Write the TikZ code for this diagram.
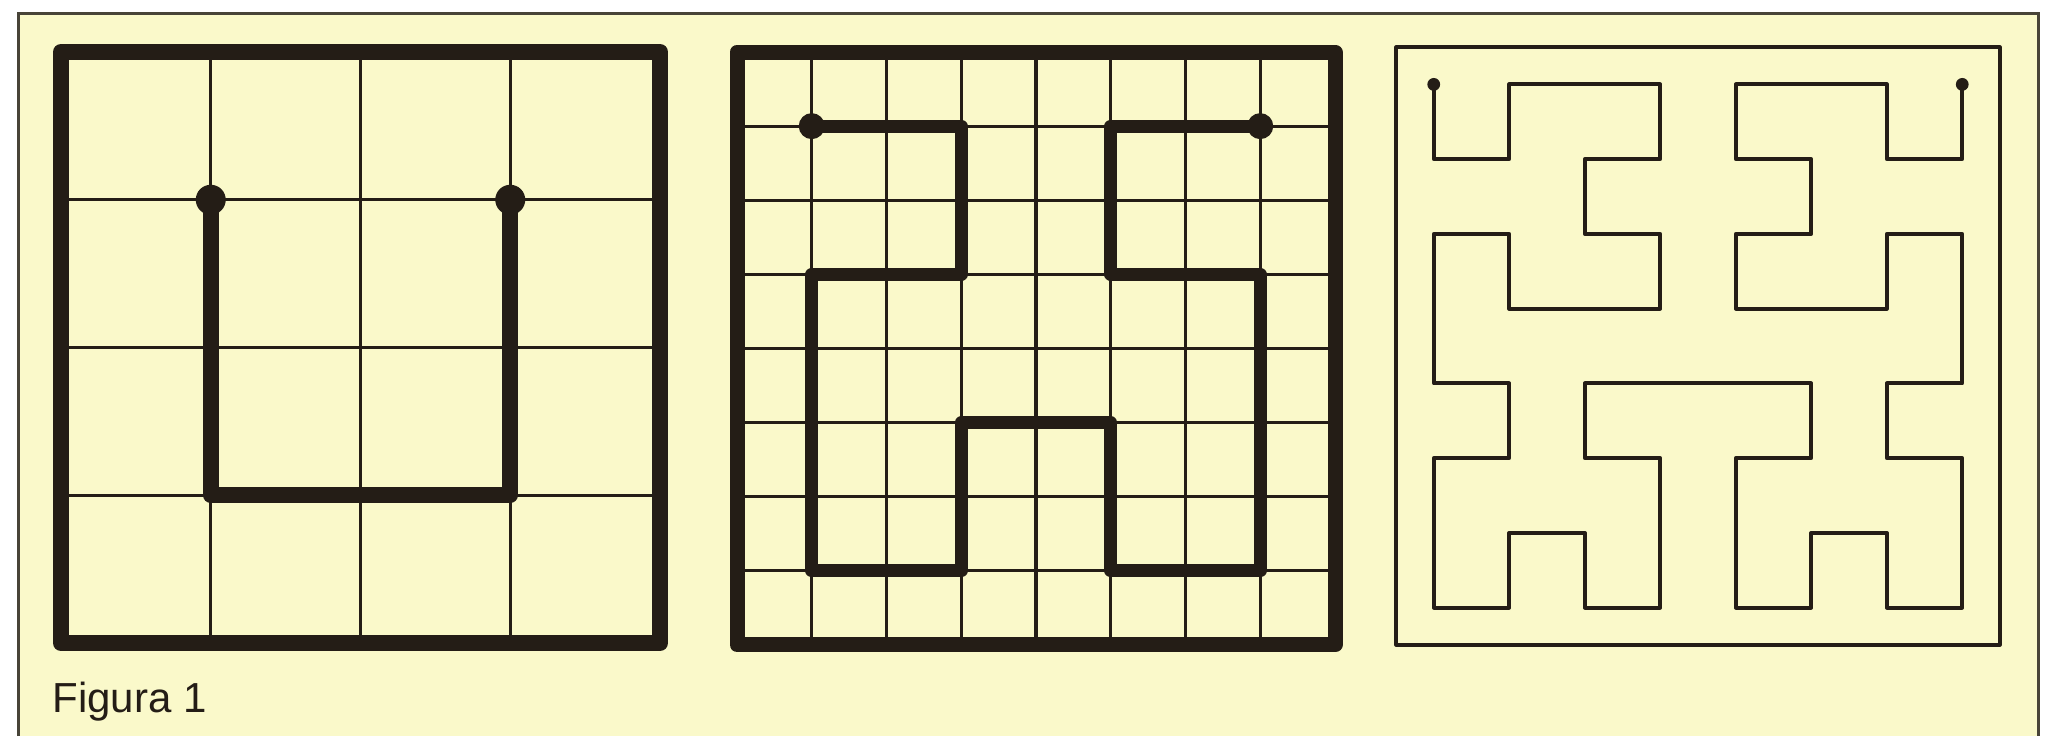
\documentclass[tikz,border=0pt]{standalone}
\usepackage{fontspec}
\setmainfont{Liberation Sans}
\definecolor{paper}{RGB}{250,249,202}
\definecolor{ink}{RGB}{36,29,22}
\definecolor{frameink}{RGB}{72,68,56}
\tikzset{
  gridline/.style={draw=ink, line width=1.6pt},
  heavyframe/.style={draw=ink, line width=8pt, line join=round},
  heavypath/.style={draw=ink, line width=8pt, line join=round, line cap=round},
  midframe/.style={draw=ink, line width=7.5pt, line join=round},
  midpath/.style={draw=ink, line width=6.5pt, line join=round, line cap=round},
  thinframe/.style={draw=ink, line width=1.6pt, line join=round},
  thinpath/.style={draw=ink, line width=1.9pt, line join=round},
}
\begin{document}
\begin{tikzpicture}[x=0.5pt,y=-0.5pt]
\useasboundingbox (0,0) rectangle (2051,736);
\fill[white] (0,0) rectangle (2051,736);
\fill[paper] (18,13) rectangle (2038,736);
\draw[frameink, line width=1.5pt] (18,736) -- (18,13) -- (2038,13) -- (2038,736);

% Panel 1: order-1 curve on a 4x4 grid
\begin{scope}[shift={(61,52)}, x=74.875pt, y=-73.875pt]
  \foreach \i in {1,2,3} {
    \draw[gridline] (\i,0) -- (\i,4);
    \draw[gridline] (0,\i) -- (4,\i);
  }
  \draw[heavyframe] (0,0) rectangle (4,4);
  \draw[heavypath] (1,1) -- (1,3) -- (3,3) -- (3,1);
  \fill[ink] (1,1) circle[radius=7.5pt];
  \fill[ink] (3,1) circle[radius=7.5pt];
\end{scope}

% Panel 2: order-2 curve on an 8x8 grid
\begin{scope}[shift={(737,52)}, x=37.375pt, y=-37.06pt]
  \foreach \i in {1,...,7} {
    \draw[gridline] (\i,0) -- (\i,8);
    \draw[gridline] (0,\i) -- (8,\i);
  }
  \draw[midframe] (0,0) rectangle (8,8);
  \draw[midpath] (1,1) -- (3,1) -- (3,3) -- (1,3) -- (1,7) -- (3,7) -- (3,5)
     -- (5,5) -- (5,7) -- (7,7) -- (7,3) -- (5,3) -- (5,1) -- (7,1);
  \fill[ink] (1,1) circle[radius=6.5pt];
  \fill[ink] (7,1) circle[radius=6.5pt];
\end{scope}

% Panel 3: order-3 curve
\begin{scope}[shift={(1396,47)}, x=37.75pt, y=-37.375pt]
  \draw[thinframe] (0,0) rectangle (8,8);
  \begin{scope}[shift={(0.5,0.5)}]
    \draw[thinpath] (0,0) -- (0,1) -- (1,1) -- (1,0) -- (3,0) -- (3,1) -- (2,1)
      -- (2,2) -- (3,2) -- (3,3) -- (1,3) -- (1,2) -- (0,2) -- (0,4) -- (1,4)
      -- (1,5) -- (0,5) -- (0,7) -- (1,7) -- (1,6) -- (2,6) -- (2,7) -- (3,7)
      -- (3,5) -- (2,5) -- (2,4) -- (5,4) -- (5,5) -- (4,5) -- (4,7) -- (5,7)
      -- (5,6) -- (6,6) -- (6,7) -- (7,7) -- (7,5) -- (6,5) -- (6,4) -- (7,4)
      -- (7,2) -- (6,2) -- (6,3) -- (4,3) -- (4,2) -- (5,2) -- (5,1) -- (4,1)
      -- (4,0) -- (6,0) -- (6,1) -- (7,1) -- (7,0);
    \fill[ink] (0,0) circle[radius=3.2pt];
    \fill[ink] (7,0) circle[radius=3.2pt];
  \end{scope}
\end{scope}

\node[anchor=base west, inner sep=0pt, text=ink, font=\fontsize{21}{25}\selectfont] (caption) at (52,712) {Figura 1};
\end{tikzpicture}
\end{document}
